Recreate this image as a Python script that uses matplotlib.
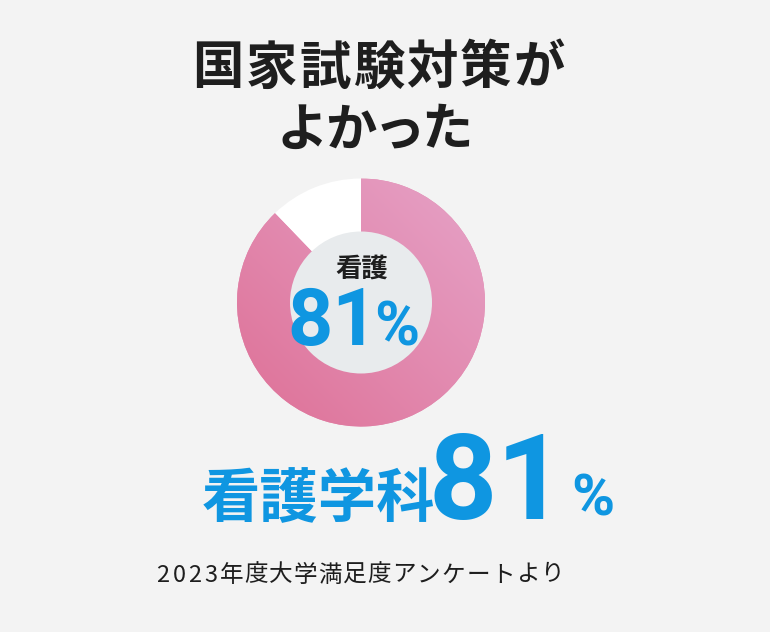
import numpy as np
import matplotlib
matplotlib.use("Agg")
import matplotlib.pyplot as plt
from matplotlib.colors import LinearSegmentedColormap
from matplotlib.patches import Circle

plt.rcParams["font.family"] = ["Noto Sans CJK JP", "DejaVu Sans"]

# data (wedge as drawn, label as printed)
title_lines = ["国家試験対策が", "よかった"]
dept_label = "看護"
dept_full = "看護学科"
rate_label = 81
wedge_shares = [87.8, 12.2]  # satisfied / other, as drawn in the ring
source_note = "2023年度大学満足度アンケートより"

BG = "#f3f3f3"
BLUE = "#0f96e1"
DARK = "#1e1e1e"
NUM_FONT = ["Roboto", "DejaVu Sans"]

W, H = 770, 632
fig = plt.figure(figsize=(W / 100, H / 100), dpi=100, facecolor=BG)

# donut first, text layer goes on top
cx, cy, r = 361, 302.5, 124
r_in = 71
dax = fig.add_axes([(cx - r) / W, 1 - (cy + r) / H, 2 * r / W, 2 * r / H])
dax.axis("off")

wedges, _ = dax.pie(wedge_shares, startangle=90, counterclock=False,
                    colors=["#e38bb0", "white"], radius=1,
                    wedgeprops=dict(linewidth=0))

# pink gradient clipped to the satisfied wedge
cmap = LinearSegmentedColormap.from_list("pk", ["#de7096", "#e6a3c8"])
gx, gy = np.meshgrid(np.linspace(-1, 1, 300), np.linspace(-1, 1, 300))
img = dax.imshow(gx + gy, extent=[-1, 1, -1, 1], origin="lower", cmap=cmap,
                 zorder=2, aspect="auto")
img.set_clip_path(wedges[0])
dax.set_xlim(-1, 1)
dax.set_ylim(-1, 1)
dax.set_aspect("equal")

dax.add_patch(Circle((0, 0), r_in / r, facecolor="#e8ebed", edgecolor="none",
                     zorder=3))

# text layer in pixel coords
tax = fig.add_axes([0, 0, 1, 1])
tax.set_xlim(0, W)
tax.set_ylim(H, 0)
tax.patch.set_alpha(0)
tax.axis("off")


def spaced(x_left, y, s, step, **kw):
    # one char at a time so the tracking matches the wide spacing
    for i, ch in enumerate(s):
        tax.text(x_left + i * step, y, ch, ha="center", va="center", **kw)


spaced(218, 68, title_lines[0], 53.5, fontsize=37, fontweight="bold", color=DARK)
spaced(302, 130, title_lines[1], 48.5, fontsize=37, fontweight="bold", color=DARK)

# centre labels
tax.text(362, 269, dept_label, fontsize=19, fontweight="bold", color=DARK,
         ha="center", va="center")
tax.text(333, 324, str(rate_label), fontsize=57, fontweight="bold", color=BLUE,
         ha="center", va="center", family=NUM_FONT)
tax.text(397, 329, "%", fontsize=44, fontweight="bold", color=BLUE,
         ha="center", va="center", family=NUM_FONT)

# big line
tax.text(318, 500, dept_full, fontsize=42, fontweight="bold", color=BLUE,
         ha="center", va="center")
tax.text(497, 486, str(rate_label), fontsize=86, fontweight="bold", color=BLUE,
         ha="center", va="center", family=NUM_FONT)
tax.text(593, 500, "%", fontsize=42, fontweight="bold", color=BLUE,
         ha="center", va="center", family=NUM_FONT)

# source line, digits a bit narrower than the kana/kanji
xs = 155
for ch in source_note:
    w = 16 if ch.isdigit() else 24.7
    tax.text(xs + w / 2, 575, ch, fontsize=17, color=DARK,
             ha="center", va="center")
    xs += w

fig.savefig("out.png", dpi=100, facecolor=BG)
